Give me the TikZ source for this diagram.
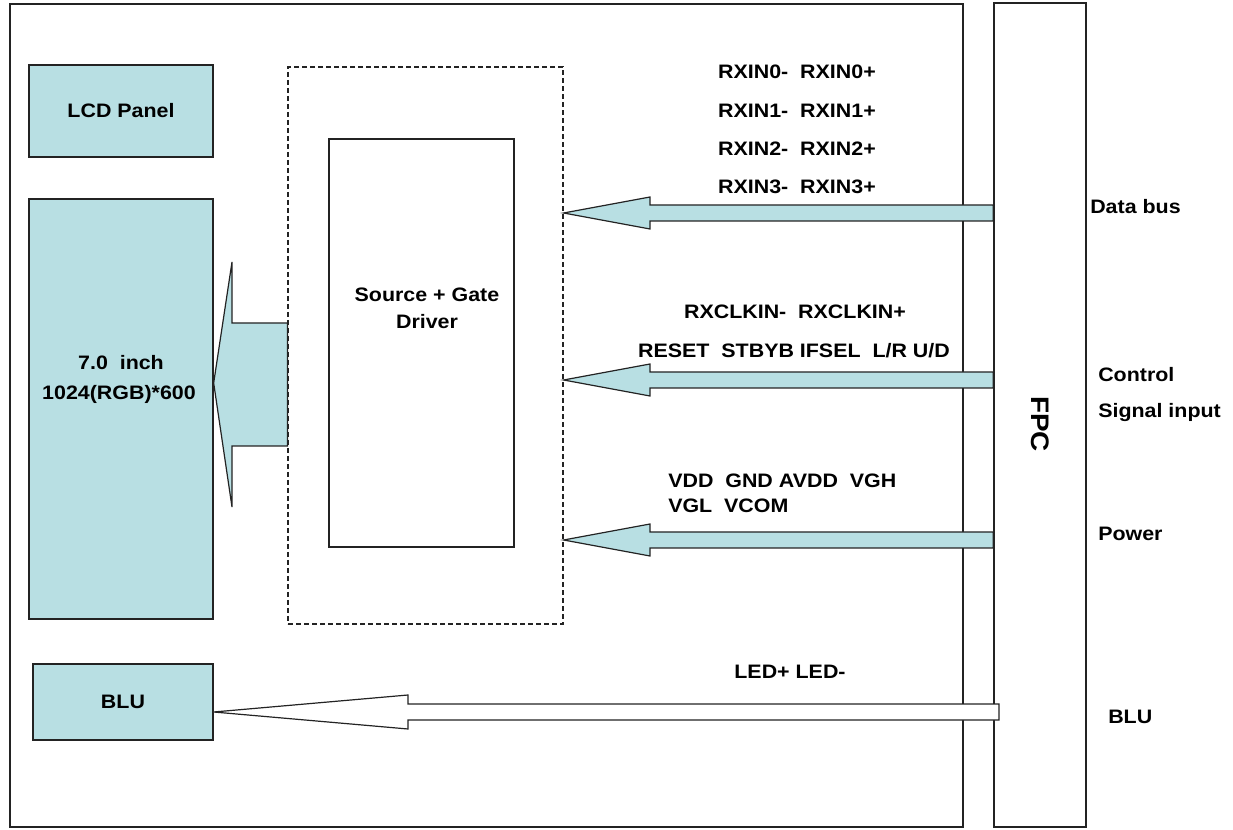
\documentclass[tikz,border=0pt]{standalone}
\usepackage{fontspec}
\setmainfont[FakeStretch=1.1]{Liberation Sans}
\usetikzlibrary{fit,calc}
\definecolor{panelfill}{RGB}{184,223,227}
\definecolor{edge}{RGB}{35,35,35}
\begin{document}
\begin{tikzpicture}[x=0.75pt,y=-0.75pt,
  font=\fontsize{14.6}{17}\selectfont\bfseries,
  frame/.style={draw=edge,line width=1pt,inner sep=0pt},
  tealbox/.style={frame,fill=panelfill},
  dashbox/.style={draw=edge,line width=0.9pt,dash pattern=on 3.5pt off 2.5pt,inner sep=0pt},
  blockarrow/.style={draw=edge,line width=0.9pt,fill=panelfill,line join=miter},
  whitearrow/.style={draw=edge,line width=0.9pt,fill=white,line join=miter},
  lbl/.style={inner sep=0pt,anchor=center},
  rlbl/.style={inner sep=0pt,anchor=west}]
\useasboundingbox (0,0) rectangle (1233,830);
% boxes
\node[frame,fit={(10,4) (963,827)}] (outer) {};
\node[frame,fit={(994,3) (1086,827)}] (fpc) {};
\node[tealbox,fit={(29,65) (213,157)}] (lcd) {};
\node[tealbox,fit={(29,199) (213,619)}] (panel) {};
\node[tealbox,fit={(33,664) (213,740)}] (blu) {};
\node[dashbox,fit={(288,67) (563,624)}] (zone) {};
\node[frame,fit={(329,139) (514,547)}] (drv) {};
% box texts
\node[lbl] at (lcd.center) {LCD Panel};
\node[lbl] at (121,363) {7.0\ \ inch};
\node[lbl] at (119,394) {1024(RGB)*600};
\node[lbl] at (123,702) {BLU};
\node[lbl] at (427,295) {Source + Gate};
\node[lbl] at (427,322) {Driver};
\node[lbl,rotate=-90,font=\fontsize{19}{22}\selectfont\bfseries] at (1040,424) {FPC};
% arrow into panel
\draw[blockarrow] (panel.east |- 0,383) -- (232,262) -- (232,323) -- (zone.west |- 0,323)
  -- (zone.west |- 0,446) -- (232,446) -- (232,507) -- cycle;
% data bus arrow
\draw[blockarrow] (zone.east |- 0,213) -- (650,197) -- (650,205) -- (fpc.west |- 0,205)
  -- (fpc.west |- 0,221) -- (650,221) -- (650,229) -- cycle;
% control arrow
\draw[blockarrow] (zone.east |- 0,380) -- (650,364) -- (650,372) -- (fpc.west |- 0,372)
  -- (fpc.west |- 0,388) -- (650,388) -- (650,396) -- cycle;
% power arrow
\draw[blockarrow] (zone.east |- 0,540) -- (650,524) -- (650,532) -- (fpc.west |- 0,532)
  -- (fpc.west |- 0,548) -- (650,548) -- (650,556) -- cycle;
% BLU arrow
\draw[whitearrow] (blu.east |- 0,712) -- (408,695) -- (408,704) -- (999,704)
  -- (999,720) -- (408,720) -- (408,729) -- cycle;
% signal labels
\node[lbl] at (797,72) {RXIN0-\ \ RXIN0+};
\node[lbl] at (797,111) {RXIN1-\ \ RXIN1+};
\node[lbl] at (797,149) {RXIN2-\ \ RXIN2+};
\node[lbl] at (797,187) {RXIN3-\ \ RXIN3+};
\node[lbl] at (795,312) {RXCLKIN-\ \ RXCLKIN+};
\node[lbl] at (794,351) {RESET\ \ STBYB\ IFSEL\ \ L/R\ U/D};
\node[rlbl] at (668,481) {VDD\ \ GND\ AVDD\ \ VGH};
\node[rlbl] at (668,506) {VGL\ \ VCOM};
\node[lbl] at (790,672) {LED+\ LED-};
% right labels
\node[rlbl] at (1090,207) {Data bus};
\node[rlbl] at (1098,375) {Control};
\node[rlbl] at (1098,413) {Signal input};
\node[rlbl] at (1098,534) {Power};
\node[rlbl] at (1108,717) {BLU};
\end{tikzpicture}
\end{document}
